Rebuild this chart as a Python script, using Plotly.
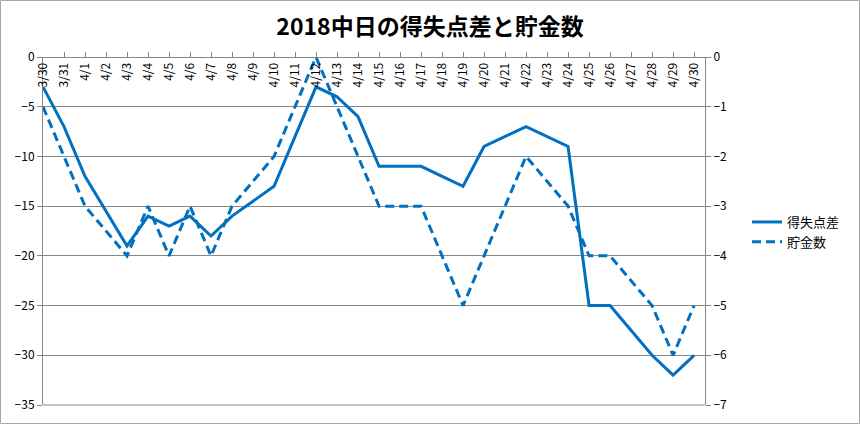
import plotly.graph_objects as go

dates = ["3/30", "3/31"] + [f"4/{d}" for d in range(1, 31)]

# 得失点差 (left axis)
run_diff = [-3, -7, -12, None, -19, -16, -17, -16, -18, -16, None, -13, None, -3, -4, -6,
            -11, None, -11, None, -13, -9, None, -7, None, -9, -25, -25, None, -30, -32, -30]
# 貯金数 (right axis)
savings = [-1, -2, -3, None, -4, -3, -4, -3, -4, -3, None, -2, None, 0, -1, -2,
           -3, None, -3, None, -5, -4, None, -2, None, -3, -4, -4, None, -5, -6, -5]

left_ticks = [0, -5, -10, -15, -20, -25, -30, -35]
right_ticks = [0, -1, -2, -3, -4, -5, -6, -7]

BLUE = "#0070C0"
GRID = "#878787"
FONT = "Noto Sans CJK JP"

fig = go.Figure()
fig.add_trace(go.Scatter(x=dates, y=run_diff, name="得失点差", mode="lines",
                         connectgaps=True, line=dict(color=BLUE, width=3)))
fig.add_trace(go.Scatter(x=dates, y=savings, name="貯金数", mode="lines", yaxis="y2",
                         connectgaps=True, line=dict(color=BLUE, width=3, dash="9px,5px")))

W, H = 860, 424
L, R, T, B = 43, 155, 57, 19
pw, ph = W - L - R, H - T - B

fig.update_layout(
    width=W, height=H,
    margin=dict(l=L, r=R, t=T, b=B, autoexpand=False),
    paper_bgcolor="white", plot_bgcolor="white",
    font=dict(family=FONT, size=12, color="black"),
    title=dict(text="<b>2018中日の得失点差と貯金数</b>", x=0.5, xanchor="center",
               y=1 - 27 / H, yanchor="middle", font=dict(size=23, family=FONT)),
    xaxis=dict(type="category", categoryorder="array", categoryarray=dates,
               range=[0, 31.52], anchor="free", position=1, side="bottom",
               tickangle=-90, ticks="inside", ticklen=5, tickcolor=GRID,
               showline=True, linecolor=GRID, linewidth=1, showgrid=False,
               tickfont=dict(size=12, family=FONT), automargin=False),
    yaxis=dict(range=[-35, 0], tickvals=left_ticks, showgrid=True, gridcolor=GRID,
               gridwidth=1, zeroline=False, showline=True, linecolor=GRID,
               ticks="outside", ticklen=5, tickcolor=GRID, automargin=False,
               tickfont=dict(size=12, family=FONT)),
    yaxis2=dict(range=[-7, 0], tickvals=right_ticks, overlaying="y", side="right",
                showgrid=False, zeroline=False, showline=True, linecolor=GRID,
                ticks="outside", ticklen=5, tickcolor=GRID, automargin=False,
                tickfont=dict(size=12, family=FONT)),
    legend=dict(x=(747 - L) / pw, xanchor="left", y=(405 - 232) / ph, yanchor="middle",
                font=dict(size=13, family=FONT), bgcolor="rgba(0,0,0,0)",
                tracegroupgap=4),
    showlegend=True,
)

# bottom boundary line of the plot area (the -35 gridline)
fig.add_shape(type="line", xref="paper", yref="paper", x0=0, x1=1, y0=0, y1=0,
              line=dict(color=GRID, width=1), layer="above")

# outer chart border
fig.add_shape(type="rect", xref="paper", yref="paper",
              x0=(0.5 - L) / pw, x1=(W - 0.5 - L) / pw,
              y0=-(B - 0.5) / ph, y1=1 + (T - 0.5) / ph,
              line=dict(color="#a6a6a6", width=1), layer="above")

fig.write_html("out.html", config={"displayModeBar": False},
               post_script="document.body.style.margin='0';")
